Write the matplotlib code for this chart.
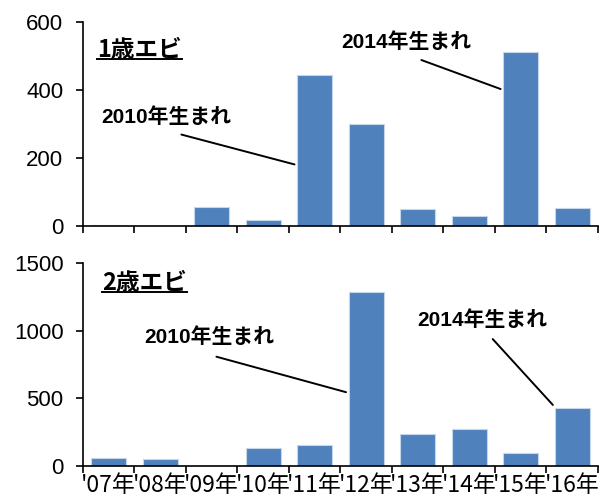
import matplotlib
matplotlib.use("Agg")
import matplotlib.pyplot as plt
from matplotlib.lines import Line2D
import numpy as np

plt.rcParams["font.family"] = ["Liberation Sans", "Noto Sans CJK JP", "DejaVu Sans"]

years = ["'07年", "'08年", "'09年", "'10年", "'11年", "'12年", "'13年", "'14年", "'15年", "'16年"]
age1 = [2, 0, 55, 18, 443, 299, 51, 29, 511, 52]
age2 = [62, 55, 3, 131, 155, 1288, 234, 276, 94, 431]

BAR = "#4F81BD"

fig = plt.figure(figsize=(6.01, 5.0), dpi=100)
ax1 = fig.add_axes([0.138, 0.548, 0.857, 0.408])
ax2 = fig.add_axes([0.138, 0.068, 0.857, 0.406])

x = np.arange(len(years))


def style(ax, ymax, step):
    ax.set_xlim(-0.5, len(years) - 0.5)
    ax.set_ylim(0, ymax)
    ax.set_yticks(np.arange(0, ymax + 1, step))
    ax.set_xticks(np.arange(-0.5, len(years), 1.0))
    ax.set_xticklabels([])
    ax.set_xticks(x, minor=True)
    ax.tick_params(axis="x", which="major", direction="out", length=5, width=1.2)
    ax.tick_params(axis="x", which="minor", length=0, labelsize=16.5, pad=6)
    ax.tick_params(axis="y", direction="out", length=5, width=1.2, labelsize=16, pad=9)
    ax.spines["top"].set_visible(False)
    ax.spines["right"].set_visible(False)
    ax.spines["left"].set_linewidth(1.2)
    ax.spines["bottom"].set_linewidth(1.2)


for ax, vals, ymax, step in [(ax1, age1, 600, 200), (ax2, age2, 1500, 500)]:
    ax.bar(x, vals, width=0.68, color=BAR, edgecolor="#c8d6ea", linewidth=0.8)
    style(ax, ymax, step)

ax2.set_xticklabels(years, minor=True, family=["Noto Sans CJK JP"])

label_kw = dict(fontsize=15, fontweight="bold", family=["Liberation Sans", "Noto Sans CJK JP"],
                ha="center", va="center")
line_kw = dict(arrowprops=dict(arrowstyle="-", color="black", lw=1.4))

# top panel
t1 = ax1.text(-0.23, 518, "1歳エビ", fontsize=17, fontweight="bold",
              family=["Noto Sans CJK JP"], ha="left", va="center")
ax1.text(1.11, 320, "2010年生まれ", **label_kw)
ax1.annotate("", xy=(3.66, 179), xytext=(1.36, 271), **line_kw)
ax1.text(5.77, 541, "2014年生まれ", **label_kw)
ax1.annotate("", xy=(7.66, 400), xytext=(6.02, 491), **line_kw)

# bottom panel
t2 = ax2.text(-0.13, 1353, "2歳エビ", fontsize=17, fontweight="bold",
              family=["Noto Sans CJK JP"], ha="left", va="center")
ax2.text(1.95, 953, "2010年生まれ", **label_kw)
ax2.annotate("", xy=(4.66, 540), xytext=(2.04, 813), **line_kw)
ax2.text(7.25, 1079, "2014年生まれ", **label_kw)
ax2.annotate("", xy=(8.66, 436), xytext=(7.42, 953), **line_kw)

# underline the panel titles
fig.canvas.draw()
renderer = fig.canvas.get_renderer()
for t in (t1, t2):
    bb = t.get_window_extent(renderer)
    inv = fig.transFigure.inverted()
    (x0, y0), (x1, _) = inv.transform([(bb.x0, bb.y0 + 3), (bb.x1, bb.y0 + 3)])
    fig.add_artist(Line2D([x0, x1], [y0, y0], transform=fig.transFigure, color="black", lw=1.4))

fig.savefig("out.png", dpi=100)
